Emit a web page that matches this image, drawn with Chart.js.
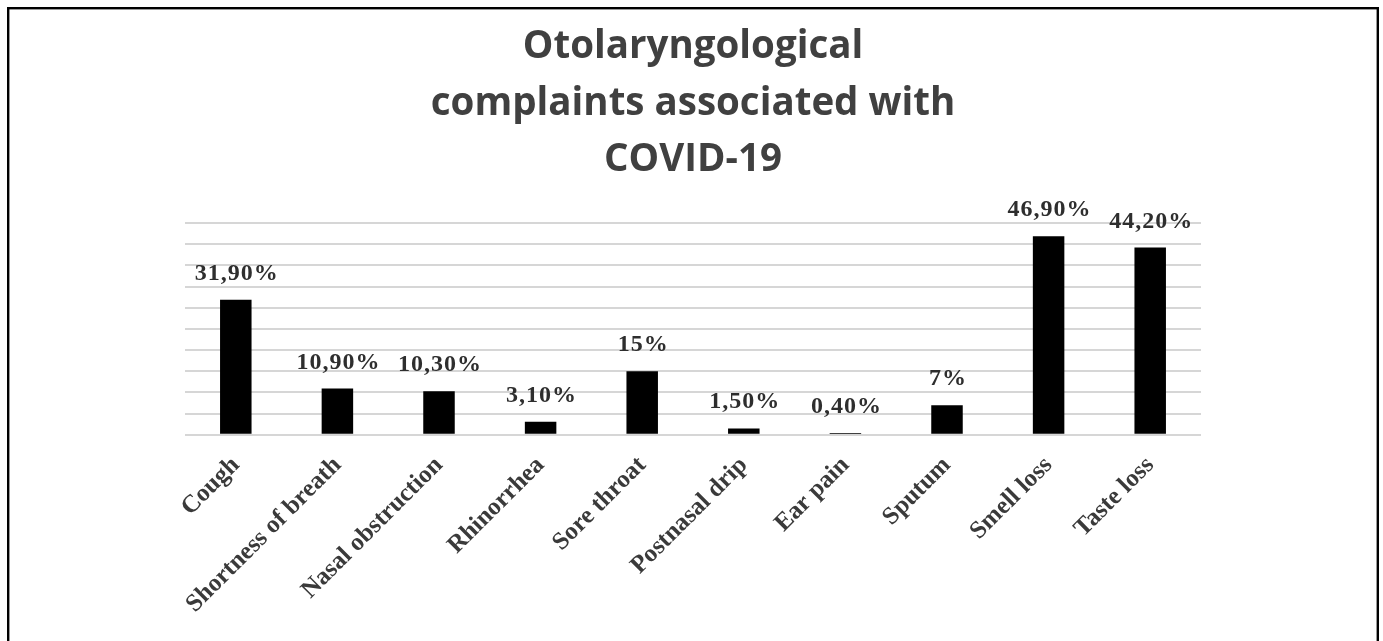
<!DOCTYPE html>
<html><head><meta charset="utf-8">
<script src="https://cdn.jsdelivr.net/npm/chart.js@4.4.1/dist/chart.umd.min.js"></script>
<style>html,body{margin:0;padding:0;background:#fff;}#wrap{width:1383px;height:641px;position:relative;}</style>
</head><body><div id="wrap"><canvas id="c" width="1383" height="641"></canvas></div>
<script>
const categories = ['Cough', 'Shortness of breath', 'Nasal obstruction', 'Rhinorrhea', 'Sore throat', 'Postnasal drip', 'Ear pain', 'Sputum', 'Smell loss', 'Taste loss'];
const values = [31.9, 10.9, 10.3, 3.1, 15, 1.5, 0.4, 7, 46.9, 44.2];
const valueLabels = ['31,90%', '10,90%', '10,30%', '3,10%', '15%', '1,50%', '0,40%', '7%', '46,90%', '44,20%'];
const titleLines = ['Otolaryngological', 'complaints associated with', 'COVID-19'];
const yMin = 0, yMax = 50, yStep = 5;

const framePlugin = {
  id: 'frame',
  afterDraw(chart) {
    const ctx = chart.ctx;
    ctx.save();
    ctx.fillStyle = '#000';
    ctx.fillRect(7, 7, 2.4, 641);
    ctx.fillRect(7, 7, 1372, 2.4);
    ctx.fillRect(1376.6, 7, 2.4, 641);
    ctx.restore();
  }
};

const titlePlugin = {
  id: 'customTitle',
  afterDraw(chart) {
    const ctx = chart.ctx;
    ctx.save();
    ctx.font = 'bold 38.5px "Open Sans", Lato, sans-serif';
    ctx.fillStyle = '#404040';
    ctx.textAlign = 'center';
    ctx.textBaseline = 'alphabetic';
    const baselines = [57.5, 114.5, 170.5];
    titleLines.forEach((line, i) => ctx.fillText(line, 693, baselines[i]));
    ctx.restore();
  }
};

const valueLabelPlugin = {
  id: 'valueLabels',
  afterDatasetsDraw(chart) {
    const ctx = chart.ctx;
    const meta = chart.getDatasetMeta(0);
    ctx.save();
    ctx.font = 'bold 24px "Liberation Serif", "Times New Roman", serif';
    ctx.fillStyle = '#2e2e2e';
    ctx.textAlign = 'center';
    ctx.textBaseline = 'alphabetic';
    try { ctx.letterSpacing = '1px'; } catch (e) {}
    meta.data.forEach((bar, i) => {
      ctx.fillText(valueLabels[i], bar.x + 1, bar.y - 20);
    });
    ctx.restore();
  }
};

new Chart(document.getElementById('c'), {
  type: 'bar',
  data: {
    labels: categories,
    datasets: [{
      data: values,
      backgroundColor: '#000000',
      borderWidth: 0,
      categoryPercentage: 1,
      barPercentage: 0.31
    }]
  },
  options: {
    responsive: false,
    animation: false,
    layout: { padding: { left: 185, right: 182, top: 223, bottom: 14 } },
    plugins: {
      legend: { display: false },
      tooltip: { enabled: false },
      title: { display: false }
    },
    scales: {
      x: {
        grid: { display: false },
        border: { display: false },
        ticks: {
          autoSkip: false,
          minRotation: 45,
          maxRotation: 45,
          padding: 8,
          color: '#3a3a3a',
          font: { family: '"Liberation Serif", "Times New Roman", serif', size: 25, weight: 'bold' }
        }
      },
      y: {
        min: yMin,
        max: yMax,
        ticks: { display: false, stepSize: yStep },
        grid: { color: '#d6d6d6', lineWidth: 2, drawTicks: false },
        border: { display: false }
      }
    }
  },
  plugins: [framePlugin, titlePlugin, valueLabelPlugin]
});
</script>
</body></html>
